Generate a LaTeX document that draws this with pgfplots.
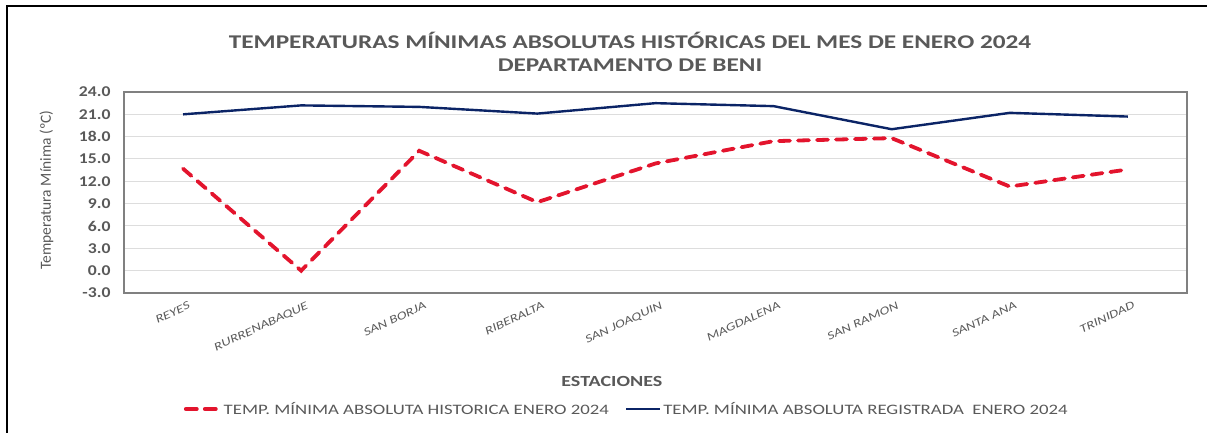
\documentclass[border=0pt]{standalone}
\usepackage{pgfplots}
\pgfplotsset{compat=1.18}
\usepackage{fontspec}
\setmainfont{Carlito}
\newfontfamily\wf[FakeStretch=1.3]{Carlito}
\newfontfamily\wg[FakeStretch=1.18]{Carlito}
\definecolor{txtgray}{HTML}{595959}
\definecolor{redl}{HTML}{E3142D}
\definecolor{bluel}{HTML}{0B2466}
\definecolor{gridc}{HTML}{DDDDDD}
\definecolor{axc}{HTML}{808080}
\begin{document}
\begin{tikzpicture}
\path[use as bounding box] (0,0) rectangle (1207bp,433bp);
\draw[black, line width=1.6bp] (7bp,0bp) -- (7bp,427bp) -- (1207bp,427bp);
\node[text=txtgray, font=\wf\fontsize{19.5}{22.5}\selectfont\bfseries, align=center] at (630bp,381bp)
  {TEMPERATURAS MÍNIMAS ABSOLUTAS HISTÓRICAS DEL MES DE ENERO 2024\\DEPARTAMENTO DE BENI};
\begin{axis}[
  at={(124bp,140bp)}, anchor=south west,
  width=1063bp, height=201bp, scale only axis,
  xmin=-0.5, xmax=8.5, ymin=-3, ymax=24,
  xtick={0,...,8},
  xticklabels={REYES,RURRENABAQUE,SAN BORJA,RIBERALTA,SAN JOAQUIN,MAGDALENA,SAN RAMON,SANTA ANA,TRINIDAD},
  ytick={-3,0,...,24},
  major tick length=0pt,
  ymajorgrids, grid style={gridc, line width=1bp},
  axis line style={axc, line width=1.2bp},
  /pgf/number format/assume math mode=true,
  yticklabel={\pgfmathprintnumber[fixed,fixed zerofill,precision=1]{\tick}},
  yticklabel style={font=\wg\fontsize{15}{18}\selectfont\bfseries, text=txtgray, xshift=-10bp},
  xticklabel style={font=\wf\fontsize{11.5}{13}\selectfont\itshape, text=txtgray, rotate=25, anchor=north east, xshift=4bp, yshift=-6bp},
  ylabel={Temperatura Mínima (ºC)},
  ylabel style={font=\fontsize{15.5}{18}\selectfont, text=txtgray, at={(axis description cs:-0.073,0.512)}, anchor=center},
  xlabel={ESTACIONES},
  xlabel style={font=\wf\fontsize{15.5}{18}\selectfont\bfseries, text=txtgray, at={(axis description cs:0.459,-0.438)}, anchor=center},
  legend columns=2,
  legend style={at={(axis description cs:0.473,-0.577)}, anchor=center, draw=none, fill=none,
    font=\wf\fontsize{14.5}{17}\selectfont, text=txtgray,
    /tikz/every even column/.append style={column sep=14bp},
    nodes={inner sep=2bp}},
  legend image code/.code={\draw[#1] (0bp,0bp) -- (34bp,0bp);},
]
\addplot[redl, line width=3.8bp, dash pattern=on 11bp off 8bp, line cap=round] coordinates {
(0,13.7) (1,0.0) (2,16.1) (3,9.2) (4,14.4) (5,17.4) (6,17.8) (7,11.3) (8,13.6)};
\addlegendentry{TEMP. MÍNIMA ABSOLUTA HISTORICA ENERO 2024}
\addplot[bluel, line width=2.4bp] coordinates {
(0,21.0) (1,22.2) (2,22.0) (3,21.1) (4,22.5) (5,22.1) (6,19.0) (7,21.2) (8,20.7)};
\addlegendentry{TEMP. MÍNIMA ABSOLUTA REGISTRADA\ \ ENERO 2024}
\end{axis}
\end{tikzpicture}
\end{document}
